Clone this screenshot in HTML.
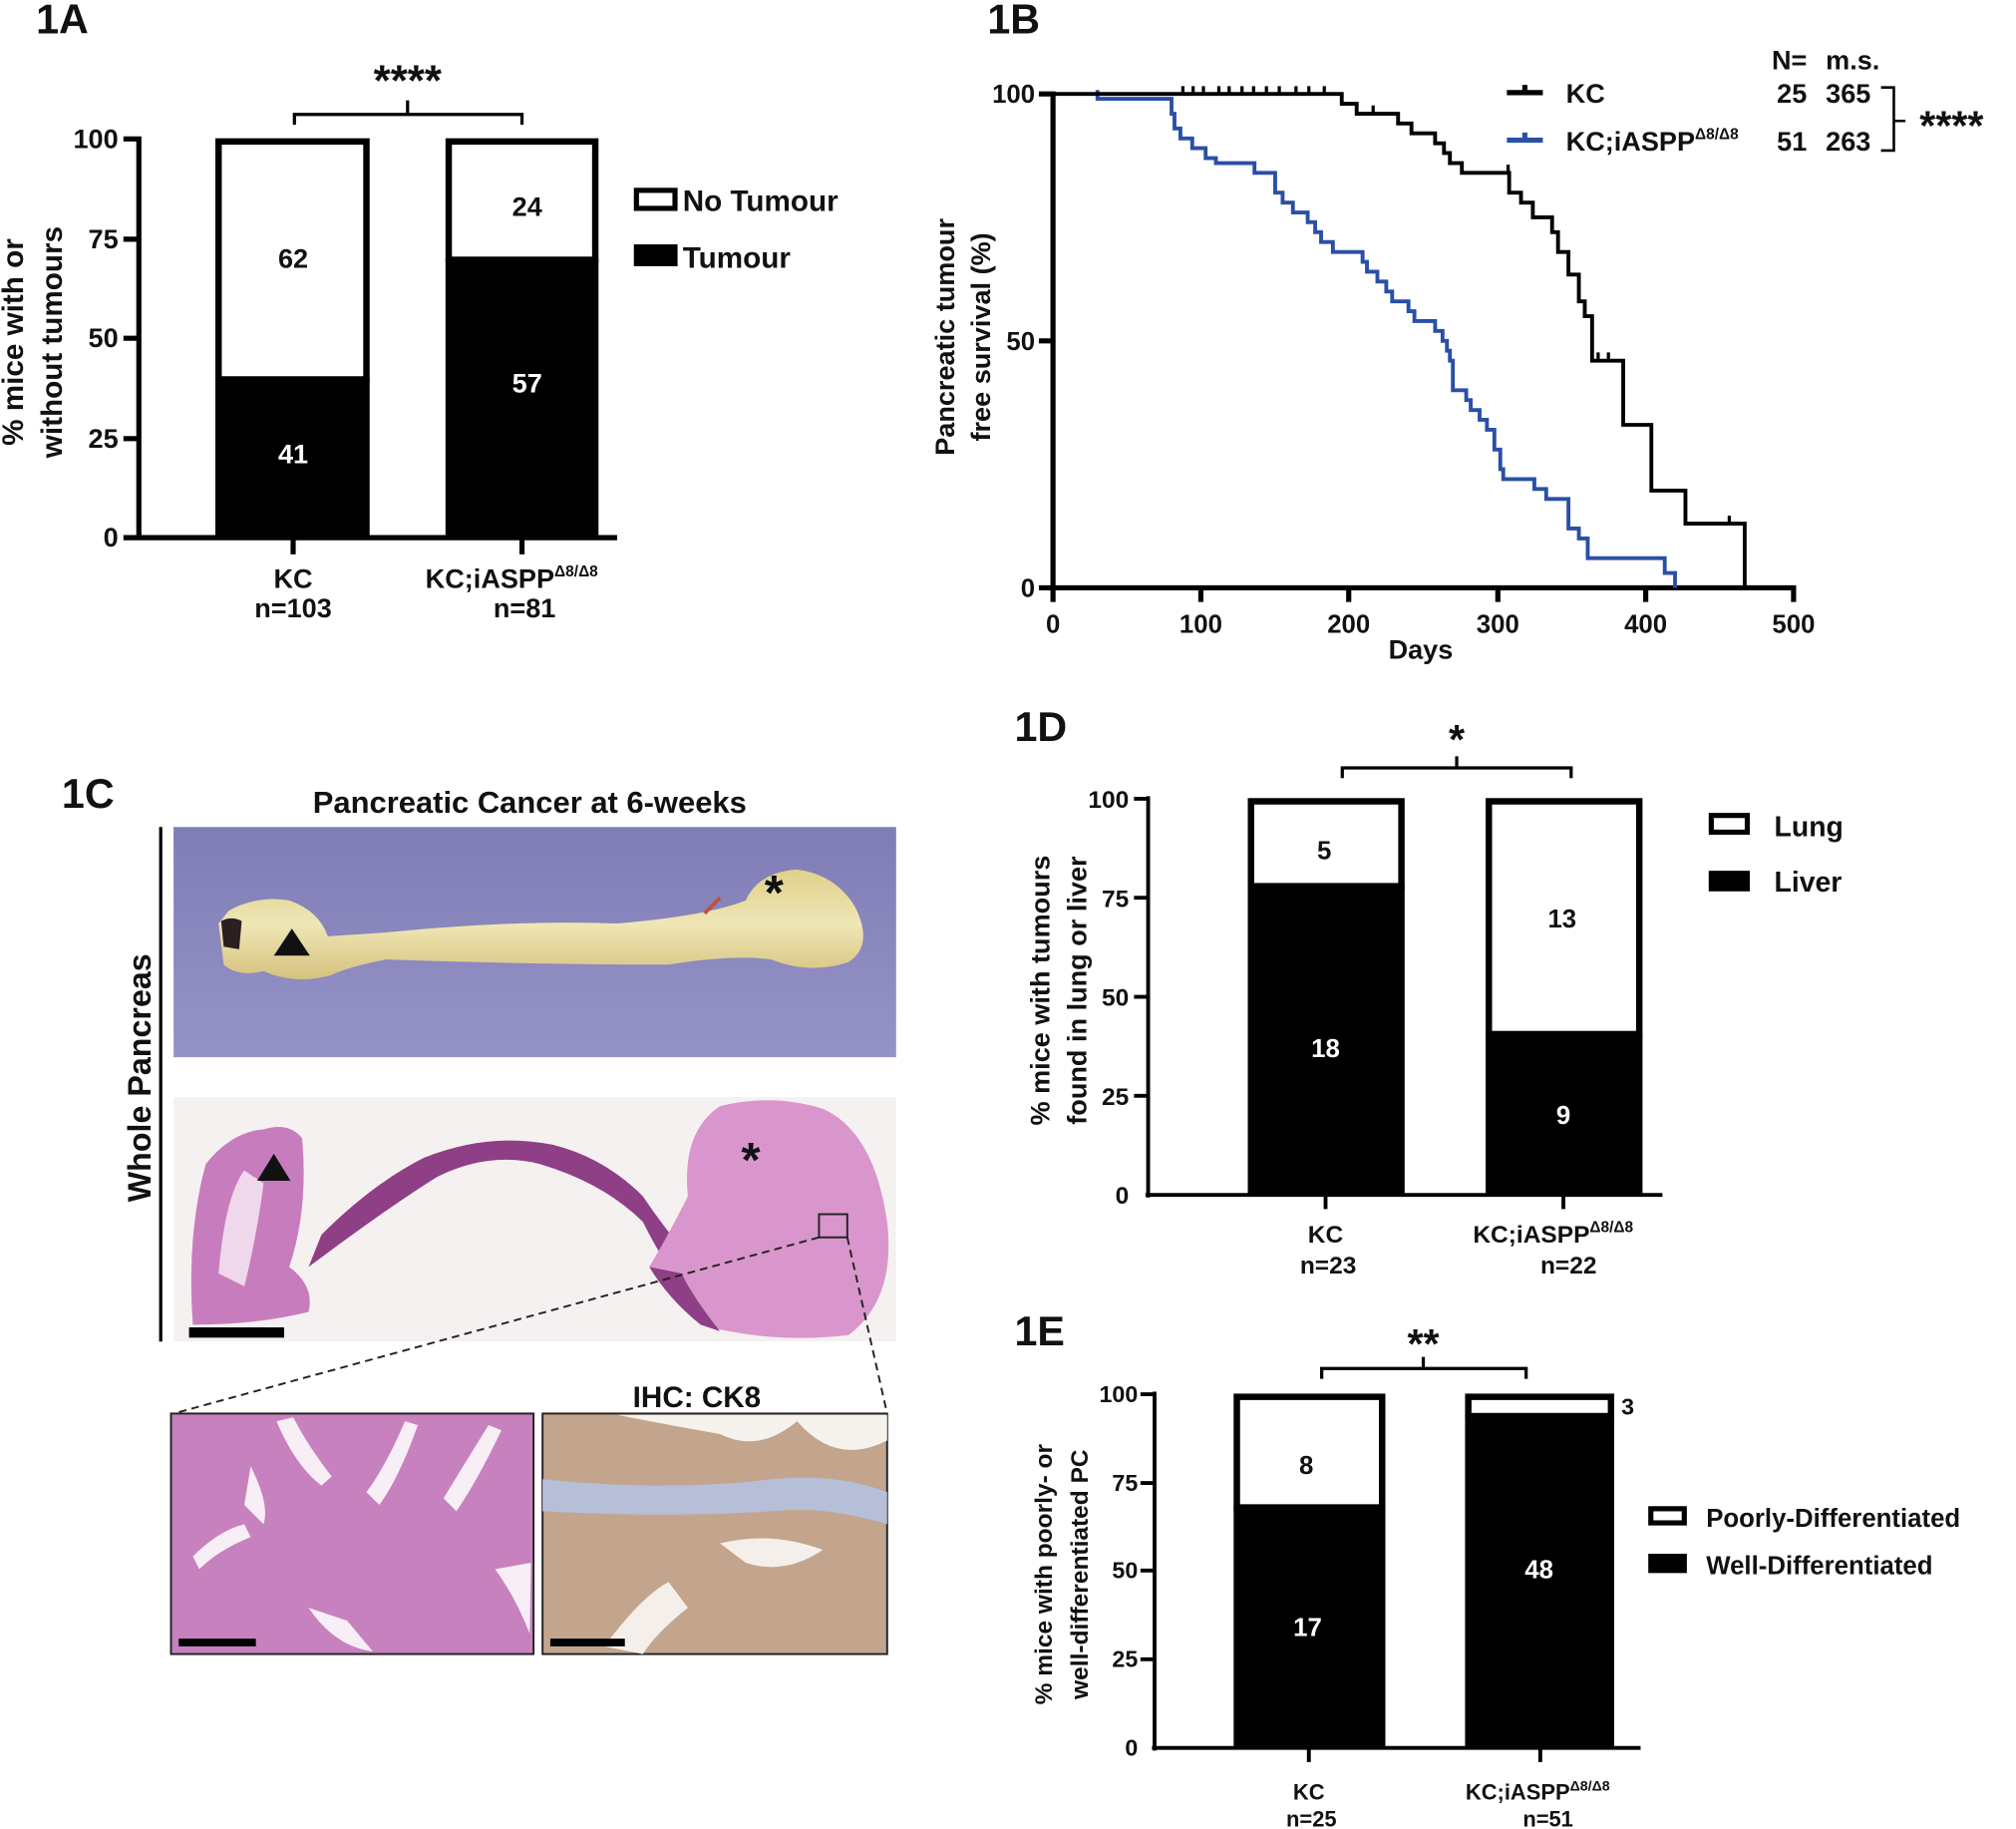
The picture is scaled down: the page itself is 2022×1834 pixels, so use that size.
<!DOCTYPE html>
<html><head><meta charset="utf-8"><style>
html,body{margin:0;padding:0;background:#fff;}
svg{display:block;}
text{font-family:"Liberation Sans",Arial,sans-serif;font-weight:bold;fill:#111;}
</style></head><body>
<svg width="2022" height="1834" viewBox="0 0 1568 1422" preserveAspectRatio="none" xmlns="http://www.w3.org/2000/svg">
<rect width="1568" height="1422" fill="#fff"/>

<!-- ===== 1A ===== -->
<text x="28" y="26" font-size="32">1A</text>
<text x="317" y="74" font-size="34" text-anchor="middle">****</text>
<path d="M229,97 V89 H406 V97 M317,89 V78" fill="none" stroke="#000" stroke-width="2.5"/>
<rect x="170" y="110" width="115" height="185" fill="#fff" stroke="#000" stroke-width="5"/>
<rect x="167.5" y="294" width="120" height="124" fill="#000"/>
<rect x="349" y="110" width="114" height="92" fill="#fff" stroke="#000" stroke-width="5"/>
<rect x="346.5" y="201" width="119" height="217" fill="#000"/>
<path d="M108,106 V420 M96,418 H480 M96,108 H108 M96,186 H108 M96,263 H108 M96,341 H108 M228,418 V431 M406,418 V431" fill="none" stroke="#000" stroke-width="4"/>
<g font-size="21" text-anchor="end"><text x="92" y="115">100</text><text x="92" y="193">75</text><text x="92" y="270">50</text><text x="92" y="348">25</text><text x="92" y="425">0</text></g>
<text transform="translate(18,266) rotate(-90)" font-size="23" text-anchor="middle">% mice with or</text>
<text transform="translate(48,266) rotate(-90)" font-size="23" text-anchor="middle">without tumours</text>
<text x="228" y="208" font-size="21" text-anchor="middle">62</text>
<text x="228" y="360" font-size="21" text-anchor="middle" style="fill:#fff">41</text>
<text x="410" y="168" font-size="21" text-anchor="middle">24</text>
<text x="410" y="305" font-size="21" text-anchor="middle" style="fill:#fff">57</text>
<rect x="495" y="148" width="30" height="14" fill="#fff" stroke="#000" stroke-width="4"/>
<text x="531" y="164" font-size="23">No Tumour</text>
<rect x="493" y="190" width="34" height="17" fill="#000"/>
<text x="531" y="208" font-size="23">Tumour</text>
<text x="228" y="457" font-size="21" text-anchor="middle">KC</text>
<text x="228" y="480" font-size="21" text-anchor="middle">n=103</text>
<text x="398" y="457" font-size="21" text-anchor="middle">KC;iASPP<tspan font-size="12" dy="-9">Δ8/Δ8</tspan></text>
<text x="408" y="480" font-size="21" text-anchor="middle">n=81</text>

<!-- ===== 1B ===== -->
<text x="768" y="26" font-size="32">1B</text>
<path d="M819,71 V460 M817,457 H1397 M808,73 H819 M808,265 H819 M808,457 H819 M819,457 V468 M934,457 V468 M1049,457 V468 M1165,457 V468 M1280,457 V468 M1395,457 V468" fill="none" stroke="#000" stroke-width="4"/>
<g font-size="20" text-anchor="end"><text x="805" y="80">100</text><text x="805" y="272">50</text><text x="805" y="464">0</text></g>
<g font-size="20" text-anchor="middle"><text x="819" y="492">0</text><text x="934" y="492">100</text><text x="1049" y="492">200</text><text x="1165" y="492">300</text><text x="1280" y="492">400</text><text x="1395" y="492">500</text></g>
<text x="1105" y="512" font-size="21" text-anchor="middle">Days</text>
<text transform="translate(742,262) rotate(-90)" font-size="21" text-anchor="middle">Pancreatic tumour</text>
<text transform="translate(770,262) rotate(-90)" font-size="21" text-anchor="middle">free survival (%)</text>
<path d="M853.6,70 V76.8 H911.2 V88.4 H913.5 V99.9 H918.1 V107.6 H927.3 V115.2 H937.7 V122.9 H945.7 V126.8 H975.7 V134.4 H991.8 V149.8 H997.6 V157.5 H1005.6 V165.2 H1017.1 V172.8 H1022.9 V180.5 H1027.5 V188.2 H1036.7 V195.9 H1059.8 V203.6 H1063.2 V211.2 H1071.3 V218.9 H1078.2 V226.6 H1082.8 V234.3 H1095.5 V242 H1100.1 V249.6 H1116.2 V257.3 H1122 V265 H1125.4 V272.7 H1127.7 V280.4 H1130 V303.4 H1140.4 V311.1 H1143.9 V318.8 H1150.8 V326.4 H1156.5 V334.1 H1162.3 V349.5 H1166.9 V364.8 H1169.2 V372.5 H1193.4 V380.2 H1202.6 V387.9 H1219.9 V410.9 H1228 V418.6 H1234.9 V434 H1294.8 V445.5 H1302.8 V457" fill="none" stroke="#2a4fa6" stroke-width="3"/>
<path d="M819,73 H1043.6 V80.7 H1055.2 V88.4 H1087.4 V96 H1097.8 V103.7 H1116.2 V111.4 H1123.1 V119 H1127.7 V126.8 H1137 V134.4 H1173.8 V149.8 H1183 V157.5 H1192.2 V169 H1207.2 V180.5 H1211.8 V195.9 H1219.9 V213.5 H1228 V234.3 H1232.6 V245.8 H1238.3 V280.4 H1262.5 V330.3 H1284.4 V381.4 H1310.9 V407.1 H1357 V457" fill="none" stroke="#000" stroke-width="3"/>
<path d="M920,67V73 M928,67V73 M936,67V73 M948,67V73 M956,67V73 M966,67V73 M975,67V73 M985,67V73 M995,67V73 M1008,67V73 M1018,67V73 M1030,67V73 M1068,82V88 M1243,274V280 M1251,274V280 M1345,401V407 M1173,128V134" stroke="#000" stroke-width="2.5"/>
<path d="M1172,72 H1200 M1186,66 V72" stroke="#000" stroke-width="4"/>
<text x="1218" y="80" font-size="21">KC</text>
<path d="M1172,109 H1200 M1186,103 V109" stroke="#2a4fa6" stroke-width="4"/>
<text x="1218" y="117" font-size="21">KC;iASPP<tspan font-size="12" dy="-9">Δ8/Δ8</tspan></text>
<text x="1378" y="54" font-size="21">N=</text><text x="1420" y="54" font-size="21">m.s.</text>
<text x="1382" y="80" font-size="21">25</text><text x="1420" y="80" font-size="21">365</text>
<text x="1382" y="117" font-size="21">51</text><text x="1420" y="117" font-size="21">263</text>
<path d="M1463,68 H1473 V117 H1463 M1473,94 H1482" fill="none" stroke="#000" stroke-width="2"/>
<text x="1493" y="109" font-size="32">****</text>

<!-- ===== 1C ===== -->
<text x="48" y="628" font-size="32">1C</text>
<text x="412" y="632" font-size="24" text-anchor="middle">Pancreatic Cancer at 6-weeks</text>
<path d="M125,643 V1043" stroke="#000" stroke-width="2.5"/>
<text transform="translate(117,838) rotate(-90)" font-size="25" text-anchor="middle">Whole Pancreas</text>
<defs>
<linearGradient id="bg1" x1="0" y1="0" x2="0" y2="1"><stop offset="0" stop-color="#7f7db5"/><stop offset="1" stop-color="#9593c6"/></linearGradient>
<linearGradient id="pan" x1="0" y1="0" x2="0" y2="1"><stop offset="0" stop-color="#e0d08a"/><stop offset="0.5" stop-color="#efe6b6"/><stop offset="1" stop-color="#d6c27e"/></linearGradient>
</defs>
<rect x="135" y="643" width="562" height="179" fill="url(#bg1)"/>
<path d="M170,718 L178,708 Q200,696 225,700 Q248,708 255,728 L300,725 Q400,715 480,718 Q550,712 580,700 Q590,678 620,676 Q650,680 665,705 Q680,735 660,748 Q630,758 600,746 Q570,742 520,750 Q420,750 300,746 Q270,752 258,758 Q230,766 205,755 Q185,760 174,750 Z" fill="url(#pan)"/>
<path d="M172,716 Q180,712 188,716 L186,738 L174,736 Z" fill="#2a2020"/>
<path d="M548,710 L560,698" stroke="#c05040" stroke-width="3"/>
<polygon points="227,722 213,743 241,743" fill="#111"/>
<text x="602" y="707" font-size="38" text-anchor="middle">*</text>

<rect x="135" y="853" width="562" height="190" fill="#f6f1f1"/>
<path d="M150,1030 Q145,960 160,905 Q180,880 205,878 Q225,872 235,885 Q240,940 225,985 Q245,1000 240,1020 Q200,1030 150,1030 Z" fill="#c77dbd"/>
<path d="M170,990 Q175,930 190,910 L205,920 Q200,960 190,1000 Z" fill="#f0d8ec"/>
<path d="M240,985 Q300,940 340,915 Q380,895 420,905 Q470,920 500,950 Q520,990 540,1010 L555,1000 Q520,960 500,930 Q470,900 430,890 Q380,880 330,900 Q290,920 250,960 Z" fill="#8e3f86"/>
<path d="M505,985 Q520,1000 545,1030 Q600,1045 660,1038 Q697,1010 690,950 Q680,880 640,862 Q600,850 560,860 Q530,880 535,930 Q520,960 505,985 Z" fill="#d996cd"/>
<path d="M505,985 Q520,1010 545,1030 L560,1035 Q540,1010 530,990 Z" fill="#8e3f86"/>
<polygon points="213,897 200,918 226,918" fill="#111"/>
<text x="584" y="915" font-size="38" text-anchor="middle">*</text>
<rect x="637" y="944" width="22" height="18" fill="none" stroke="#222" stroke-width="1.5"/>
<rect x="147" y="1032" width="74" height="8" fill="#000"/>
<path d="M637,962 L135,1099 M659,962 L690,1099" stroke="#222" stroke-width="1.5" stroke-dasharray="6,4"/>

<rect x="133" y="1099" width="282" height="187" fill="#c781be" stroke="#222" stroke-width="1.5"/>
<path d="M215,1105 Q230,1140 250,1155 L258,1148 Q240,1125 228,1102 Z M285,1160 Q300,1140 315,1105 L325,1108 Q310,1150 295,1170 Z M345,1165 Q360,1140 380,1108 L390,1112 Q372,1150 355,1175 Z M150,1210 Q170,1190 190,1185 L195,1195 Q170,1205 155,1220 Z M240,1250 Q260,1280 290,1284 L270,1260 Z M385,1220 Q400,1240 412,1270 L413,1215 Z M195,1140 Q210,1170 205,1185 L190,1170 Z" fill="#f7eef6"/>
<rect x="139" y="1274" width="60" height="6" fill="#000"/>
<rect x="422" y="1099" width="268" height="187" fill="#c3a58e" stroke="#222" stroke-width="1.5"/>
<path d="M422,1150 Q520,1160 600,1150 Q650,1145 690,1160 L690,1185 Q640,1170 600,1175 Q520,1180 422,1175 Z" fill="#b7bed8"/>
<path d="M480,1100 H690 V1120 Q650,1140 620,1105 Q590,1130 560,1115 Q520,1108 480,1100 Z" fill="#f6f2ee"/>
<path d="M560,1200 Q600,1190 640,1205 Q610,1225 580,1215 Z M470,1280 Q500,1240 520,1230 L535,1250 Q510,1270 500,1286 Z" fill="#f4efea"/>
<text x="542" y="1094" font-size="23" text-anchor="middle">IHC: CK8</text>
<rect x="428" y="1274" width="58" height="6" fill="#000"/>

<!-- ===== 1D ===== -->
<text x="789" y="576" font-size="32">1D</text>
<text x="1133" y="586" font-size="32" text-anchor="middle">*</text>
<path d="M1044,605 V597 H1222 V605 M1133,597 V588" fill="none" stroke="#000" stroke-width="2.5"/>
<rect x="973" y="623" width="117" height="66" fill="#fff" stroke="#000" stroke-width="5"/>
<rect x="970.5" y="688" width="122" height="241" fill="#000"/>
<rect x="1158" y="623" width="117" height="181" fill="#fff" stroke="#000" stroke-width="5"/>
<rect x="1155.5" y="803" width="122" height="126" fill="#000"/>
<path d="M893,619 V931 M891,929 H1293 M882,621 H893 M882,698 H893 M882,775 H893 M882,852 H893 M1031,929 V940 M1216,929 V940" fill="none" stroke="#000" stroke-width="3"/>
<g font-size="19" text-anchor="end"><text x="878" y="628">100</text><text x="878" y="705">75</text><text x="878" y="782">50</text><text x="878" y="859">25</text><text x="878" y="936">0</text></g>
<text transform="translate(816,770) rotate(-90)" font-size="21" text-anchor="middle">% mice with tumours</text>
<text transform="translate(845,770) rotate(-90)" font-size="21" text-anchor="middle">found in lung or liver</text>
<text x="1030" y="668" font-size="20" text-anchor="middle">5</text>
<text x="1031" y="822" font-size="20" text-anchor="middle" style="fill:#fff">18</text>
<text x="1215" y="721" font-size="20" text-anchor="middle">13</text>
<text x="1216" y="874" font-size="20" text-anchor="middle" style="fill:#fff">9</text>
<rect x="1331" y="634" width="28" height="13" fill="#fff" stroke="#000" stroke-width="4"/>
<text x="1380" y="650" font-size="22">Lung</text>
<rect x="1329" y="677" width="32" height="16" fill="#000"/>
<text x="1380" y="693" font-size="22">Liver</text>
<text x="1031" y="966" font-size="19" text-anchor="middle">KC</text>
<text x="1033" y="990" font-size="19" text-anchor="middle">n=23</text>
<text x="1208" y="966" font-size="19" text-anchor="middle">KC;iASPP<tspan font-size="12" dy="-8">Δ8/Δ8</tspan></text>
<text x="1220" y="990" font-size="19" text-anchor="middle">n=22</text>

<!-- ===== 1E ===== -->
<text x="789" y="1046" font-size="32">1E</text>
<text x="1107" y="1056" font-size="32" text-anchor="middle">**</text>
<path d="M1028,1072 V1064 H1187 V1072 M1107,1064 V1055" fill="none" stroke="#000" stroke-width="2.5"/>
<rect x="962" y="1086" width="113" height="86" fill="#fff" stroke="#000" stroke-width="5"/>
<rect x="959.5" y="1171" width="118" height="188" fill="#000"/>
<rect x="1142" y="1086" width="111" height="15" fill="#fff" stroke="#000" stroke-width="5"/>
<rect x="1139.5" y="1099" width="116" height="260" fill="#000"/>
<path d="M898,1082 V1361 M896,1359 H1276 M887,1084 H898 M887,1153 H898 M887,1221 H898 M887,1290 H898 M1018,1359 V1370 M1198,1359 V1370" fill="none" stroke="#000" stroke-width="3"/>
<g font-size="18" text-anchor="end"><text x="885" y="1090">100</text><text x="885" y="1159">75</text><text x="885" y="1227">50</text><text x="885" y="1296">25</text><text x="885" y="1365">0</text></g>
<text transform="translate(818,1224) rotate(-90)" font-size="19" text-anchor="middle">% mice with poorly- or</text>
<text transform="translate(846,1224) rotate(-90)" font-size="19" text-anchor="middle">well-differentiated PC</text>
<text x="1016" y="1146" font-size="20" text-anchor="middle">8</text>
<text x="1017" y="1272" font-size="20" text-anchor="middle" style="fill:#fff">17</text>
<text x="1197" y="1227" font-size="20" text-anchor="middle" style="fill:#fff">48</text>
<text x="1261" y="1100" font-size="18">3</text>
<rect x="1284" y="1173" width="26" height="11" fill="#fff" stroke="#000" stroke-width="4"/>
<text x="1327" y="1187" font-size="20">Poorly-Differentiated</text>
<rect x="1282" y="1208" width="30" height="15" fill="#000"/>
<text x="1327" y="1224" font-size="20">Well-Differentiated</text>
<text x="1018" y="1399" font-size="17" text-anchor="middle">KC</text>
<text x="1020" y="1420" font-size="17" text-anchor="middle">n=25</text>
<text x="1196" y="1399" font-size="17" text-anchor="middle">KC;iASPP<tspan font-size="11" dy="-7">Δ8/Δ8</tspan></text>
<text x="1204" y="1420" font-size="17" text-anchor="middle">n=51</text>
</svg>
</body></html>
